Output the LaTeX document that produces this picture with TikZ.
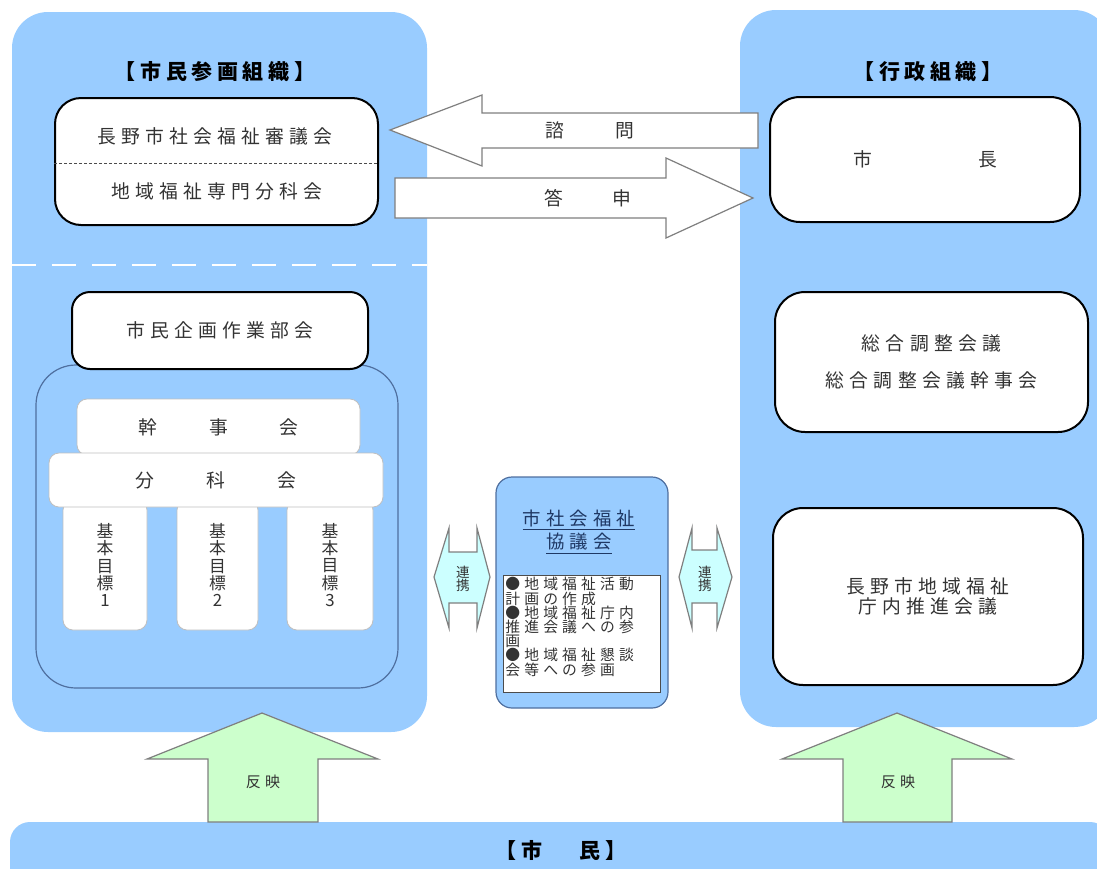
\documentclass[tikz,border=0pt]{standalone}
\usepackage{fontspec}
\usepackage{xcolor}
\usetikzlibrary{calc, positioning}
\newfontfamily\jpfont{Noto Sans CJK JP}[LetterSpace=28]
\newfontfamily\jptitle{Noto Sans CJK JP}[LetterSpace=22]
\definecolor{panelblue}{HTML}{99CCFF}
\definecolor{bordblue}{HTML}{4F6F9F}
\definecolor{reflgreen}{HTML}{CCFFCC}
\definecolor{linkcyan}{HTML}{CCFFFF}
\definecolor{ink}{HTML}{333333}
\definecolor{navy}{HTML}{1F3864}
\definecolor{arrgray}{HTML}{7F7F7F}
\tikzset{
  % big background panel
  panel/.style={
    fill=panelblue
    , rounded corners=18pt
    , inner sep=0pt
  },
}
\tikzset{
  % organisation box (heavy border)
  orgbox/.style={
    draw
    , fill=white
    , line width=1pt
    , rounded corners=12pt
    , inner sep=0pt
    , align=center
  },
}
\tikzset{
  % white sub box, light border
  subbox/.style={
    draw=black!25
    , fill=white
    , line width=0.4pt
    , rounded corners=5pt
    , inner sep=0pt
  },
}
\tikzset{
  % block arrow outline
  blockarr/.style={
    draw=arrgray
    , line width=0.6pt
    , line join=miter
  },
}
\tikzset{
  % texts
  txt/.style={
    font=\jpfont\fontsize{9.4pt}{10pt}\selectfont
    , text=ink
    , inner sep=0pt
    , align=center
  },
  ttl/.style={
    font=\jptitle\bfseries\fontsize{10.5pt}{11pt}\selectfont
    , text=black
    , inner sep=0pt
  },
  tinytxt/.style={
    font=\jpfont\fontsize{7.4pt}{7.1pt}\selectfont
    , text=ink
    , inner sep=0pt
  },
}

\begin{document}
\begin{tikzpicture}[x=0.5pt, y=-0.5pt]
  \useasboundingbox (0,0) rectangle (1097,868);
  \clip (0,0) rectangle (1097,868);

  % panels
  \node[panel, minimum width=207.5pt, minimum height=360pt] (civic) at (219.5,372) {};
  \node[panel, minimum width=185pt, minimum height=358.5pt] (admin) at (925,368.5) {};
  \node[panel, rounded corners=10pt, minimum width=550pt, minimum height=39pt] (citizen) at (560,861) {};
  \coordinate (divider) at (0,265);
  \draw[white, line width=1pt, dash pattern=on 12pt off 8pt]
    (civic.west |- divider) -- (civic.east |- divider);

  \node[ttl] (civictitle) at (215,72) {【市民参画組織】};
  \node[ttl] (admintitle) at (928,72) {【行政組織】};

  % council
  \node[orgbox, rounded corners=13pt, minimum width=161.5pt, minimum height=63.5pt] (shingi) at (216.5,161.5) {};
  \coordinate (shingimid) at (0,163);
  \draw[black!70, line width=0.4pt, dash pattern=on 1.5pt off 1pt]
    (shingi.west |- shingimid) -- (shingi.east |- shingimid);
  \node[txt] (shingitxt) at (215,136) {長野市社会福祉審議会};
  \node[txt] (bunkatxt) at (217,191) {地域福祉専門分科会};

  % mayor
  \node[orgbox, txt, rounded corners=15pt, minimum width=155pt, minimum height=62.5pt] (mayor) at (925,159.5) {市\hspace{53pt}長};

  % consult / report arrows
  \draw[blockarr, fill=white] (390,130) -- (482,95) -- (482,113) -- (758,113)
    -- (758,148) -- (482,148) -- (482,166) -- cycle;
  \node[txt] (shimon) at (590,130) {諮\hspace{26pt}問};
  \draw[blockarr, fill=white] (395,178) -- (666,178) -- (666,158) -- (753,198)
    -- (666,238) -- (666,218) -- (395,218) -- cycle;
  \node[txt] (toushin) at (588,198) {答\hspace{24.5pt}申};

  % citizen planning group
  \node[draw=bordblue, fill=panelblue, line width=0.6pt, rounded corners=20pt,
    minimum width=181pt, minimum height=161.5pt] (bukai) at (217,526.5) {};
  \node[orgbox, txt, rounded corners=9pt, minimum width=148pt, minimum height=38.5pt] (kikaku) at (220,330.5) {市民企画作業部会};
  \node[subbox, txt, minimum width=141.5pt, minimum height=28pt] (kanji) at (218.5,427) {幹\hspace{26pt}事\hspace{26pt}会};
  \foreach \gx/\gw/\gn in {105/42/1, 217.5/40.5/2, 330/43/3}{
    \node[subbox, tinytxt, font=\jpfont\fontsize{8.4pt}{8.7pt}\selectfont, align=center,
      minimum width=\gw pt, minimum height=65pt] (goal\gn) at (\gx,565) {基\\本\\目\\標\\\gn};
  }
  \node[subbox, txt, minimum width=167pt, minimum height=27pt] (bunka) at (216,480) {分\hspace{26pt}科\hspace{26pt}会};

  % administration
  \node[orgbox, txt, font=\jpfont\fontsize{9.4pt}{18.5pt}\selectfont, rounded corners=15pt,
    minimum width=156.5pt, minimum height=70pt] (sougou) at (931.5,362) {総合調整会議\\総合調整会議幹事会};
  \node[orgbox, txt, rounded corners=15pt, minimum width=155pt, minimum height=88.5pt] (chonai) at (928,596.5) {長野市地域福祉\\庁内推進会議};

  % social welfare council
  \node[draw=bordblue, fill=panelblue, line width=0.6pt, rounded corners=8pt,
    minimum width=86pt, minimum height=115.5pt] (kyogi) at (582,592.5) {};
  \node[txt, text=navy, font=\jpfont\fontsize{9.2pt}{9.5pt}\selectfont] (kyogititle) at (579,532)
    {\underline{市社会福祉}\\\underline{協議会}};
  \node[draw=black!70, fill=white, line width=0.5pt, minimum width=78.5pt, minimum height=58.5pt] (katsudo) at (581.5,633.5) {};
  \node[tinytxt, align=left, anchor=north west] (katsudotxt) at (505,577)
    {●地域福祉活動\\計画の作成\\●地域福祉庁内\\推進会議への参\\画\\●地域福祉懇談\\会等への参画};

  % liaison arrows
  \draw[blockarr, fill=linkcyan] (434,577) -- (449,528) -- (449,552) -- (477,552) -- (477,528)
    -- (490,577) -- (477,628) -- (477,603) -- (449,603) -- (449,628) -- cycle;
  \node[tinytxt, font=\jpfont\fontsize{6.8pt}{6.6pt}\selectfont, align=center] (renkei1) at (463,579) {連\\携};
  \draw[blockarr, fill=linkcyan] (679,577) -- (692,528) -- (692,550) -- (717,550) -- (717,528)
    -- (732,577) -- (717,628) -- (717,603) -- (692,603) -- (692,628) -- cycle;
  \node[tinytxt, font=\jpfont\fontsize{6.8pt}{6.6pt}\selectfont, align=center] (renkei2) at (705,579) {連\\携};

  % feedback arrows
  \draw[blockarr, fill=reflgreen] (262,713) -- (378,759) -- (318,759) -- (318,822)
    -- (208,822) -- (208,759) -- (147,759) -- cycle;
  \node[tinytxt, font=\jpfont\fontsize{7.5pt}{8pt}\selectfont] (hanei1) at (263,782) {反映};
  \draw[blockarr, fill=reflgreen] (897,713) -- (1012,759) -- (952,759) -- (952,822)
    -- (843,822) -- (843,759) -- (782,759) -- cycle;
  \node[tinytxt, font=\jpfont\fontsize{7.5pt}{8pt}\selectfont] (hanei2) at (898,782) {反映};

  \node[ttl] (citizenlbl) at (561,850) {【市\hspace{18.5pt}民】};
\end{tikzpicture}
\end{document}
